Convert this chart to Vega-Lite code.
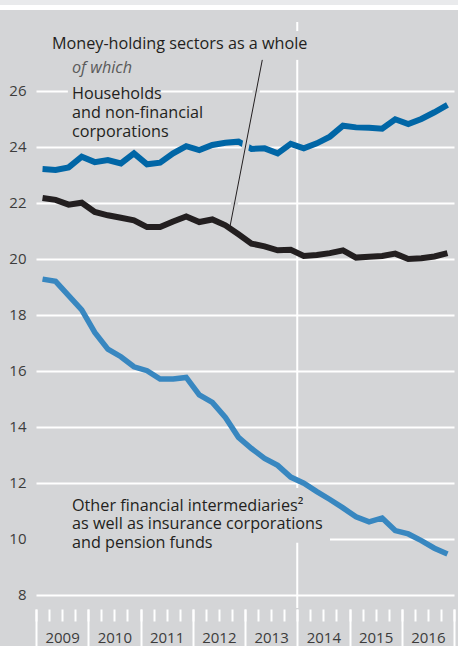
{
  "$schema": "https://vega.github.io/schema/vega-lite/v6.json",
  "width": 418,
  "height": 598,
  "autosize": {"type": "none"},
  "padding": {"left": 36, "top": 10, "right": 4, "bottom": 38},
  "background": "#d4d5d7",
  "config": {"view": {"stroke": null}, "font": "Open Sans"},
  "data": {"values": [{}]},
  "resolve": {"axis": {"x": "independent"}},
  "datasets": {
    "total": [
      {"t": 2009.125, "v": 22.17}, {"t": 2009.375, "v": 22.10}, {"t": 2009.625, "v": 21.93}, {"t": 2009.875, "v": 22.00},
      {"t": 2010.125, "v": 21.67}, {"t": 2010.375, "v": 21.55}, {"t": 2010.625, "v": 21.46}, {"t": 2010.875, "v": 21.37},
      {"t": 2011.125, "v": 21.13}, {"t": 2011.375, "v": 21.13}, {"t": 2011.625, "v": 21.33}, {"t": 2011.875, "v": 21.51},
      {"t": 2012.125, "v": 21.31}, {"t": 2012.375, "v": 21.40}, {"t": 2012.625, "v": 21.19}, {"t": 2012.875, "v": 20.87},
      {"t": 2013.125, "v": 20.54}, {"t": 2013.375, "v": 20.44}, {"t": 2013.625, "v": 20.30}, {"t": 2013.875, "v": 20.32},
      {"t": 2014.125, "v": 20.10}, {"t": 2014.375, "v": 20.13}, {"t": 2014.625, "v": 20.20}, {"t": 2014.875, "v": 20.30},
      {"t": 2015.125, "v": 20.04}, {"t": 2015.375, "v": 20.07}, {"t": 2015.625, "v": 20.10}, {"t": 2015.875, "v": 20.18},
      {"t": 2016.125, "v": 19.99}, {"t": 2016.375, "v": 20.02}, {"t": 2016.625, "v": 20.08}, {"t": 2016.875, "v": 20.20}
    ],
    "hh": [
      {"t": 2009.125, "v": 23.20}, {"t": 2009.375, "v": 23.17}, {"t": 2009.625, "v": 23.26}, {"t": 2009.875, "v": 23.64},
      {"t": 2010.125, "v": 23.45}, {"t": 2010.375, "v": 23.52}, {"t": 2010.625, "v": 23.40}, {"t": 2010.875, "v": 23.76},
      {"t": 2011.125, "v": 23.37}, {"t": 2011.375, "v": 23.43}, {"t": 2011.625, "v": 23.76}, {"t": 2011.875, "v": 24.02},
      {"t": 2012.125, "v": 23.88}, {"t": 2012.375, "v": 24.06}, {"t": 2012.625, "v": 24.14}, {"t": 2012.875, "v": 24.18},
      {"t": 2013.125, "v": 23.92}, {"t": 2013.375, "v": 23.94}, {"t": 2013.625, "v": 23.76}, {"t": 2013.875, "v": 24.10},
      {"t": 2014.125, "v": 23.94}, {"t": 2014.375, "v": 24.12}, {"t": 2014.625, "v": 24.36}, {"t": 2014.875, "v": 24.75},
      {"t": 2015.125, "v": 24.69}, {"t": 2015.375, "v": 24.68}, {"t": 2015.625, "v": 24.64}, {"t": 2015.875, "v": 24.98},
      {"t": 2016.125, "v": 24.81}, {"t": 2016.375, "v": 24.99}, {"t": 2016.625, "v": 25.23}, {"t": 2016.875, "v": 25.49}
    ],
    "ofi": [
      {"t": 2009.125, "v": 19.27}, {"t": 2009.375, "v": 19.19}, {"t": 2009.625, "v": 18.68}, {"t": 2009.875, "v": 18.17},
      {"t": 2010.125, "v": 17.37}, {"t": 2010.375, "v": 16.77}, {"t": 2010.625, "v": 16.50}, {"t": 2010.875, "v": 16.14},
      {"t": 2011.125, "v": 16.00}, {"t": 2011.375, "v": 15.70}, {"t": 2011.625, "v": 15.70}, {"t": 2011.875, "v": 15.76},
      {"t": 2012.125, "v": 15.14}, {"t": 2012.375, "v": 14.87}, {"t": 2012.625, "v": 14.33}, {"t": 2012.875, "v": 13.62},
      {"t": 2013.125, "v": 13.22}, {"t": 2013.375, "v": 12.87}, {"t": 2013.625, "v": 12.62}, {"t": 2013.875, "v": 12.20},
      {"t": 2014.125, "v": 11.98}, {"t": 2014.375, "v": 11.68}, {"t": 2014.625, "v": 11.40}, {"t": 2014.875, "v": 11.10},
      {"t": 2015.125, "v": 10.78}, {"t": 2015.375, "v": 10.60}, {"t": 2015.625, "v": 10.74}, {"t": 2015.875, "v": 10.29},
      {"t": 2016.125, "v": 10.17}, {"t": 2016.375, "v": 9.93}, {"t": 2016.625, "v": 9.66}, {"t": 2016.875, "v": 9.45}
    ]
  },
  "layer": [
    {
      "mark": {"type": "rect", "fill": "#e9eaec"},
      "encoding": {
        "x": {
          "datum": 2008.3, "type": "quantitative", "title": null,
          "scale": {"domain": [2009, 2017], "nice": false, "zero": false},
          "axis": {
            "orient": "bottom",
            "title": null,
            "values": [2009, 2009.25, 2009.5, 2009.75, 2010, 2010.25, 2010.5, 2010.75, 2011, 2011.25, 2011.5, 2011.75, 2012, 2012.25, 2012.5, 2012.75, 2013, 2013.25, 2013.5, 2013.75, 2014, 2014.25, 2014.5, 2014.75, 2015, 2015.25, 2015.5, 2015.75, 2016, 2016.25, 2016.5, 2016.75, 2017],
            "grid": false,
            "domain": false,
            "ticks": true,
            "tickColor": "#ffffff",
            "tickWidth": 2,
            "tickSize": 12,
            "offset": 1,
            "labels": false
          }
        },
        "x2": {"datum": 2017.1},
        "y": {
          "datum": 29.06, "type": "quantitative", "title": null,
          "scale": {"domain": [7.525, 28.882], "nice": false, "zero": false},
          "axis": {
            "title": null,
            "values": [8, 10, 12, 14, 16, 18, 20, 22, 24, 26],
            "grid": true,
            "gridColor": "#ffffff",
            "gridWidth": 2,
            "gridOpacity": 1,
            "domain": false,
            "ticks": false,
            "labelFont": "Open Sans",
            "labelFontSize": 15,
            "labelColor": "#3c3c3c",
            "labelPadding": 10
          }
        },
        "y2": {"datum": 29.4}
      }
    },
    {
      "mark": {"type": "rect", "fill": "#ffffff"},
      "encoding": {
        "x": {
          "datum": 2008.3, "type": "quantitative", "title": null,
          "axis": {
            "orient": "bottom",
            "title": null,
            "values": [2009, 2010, 2011, 2012, 2013, 2014, 2015, 2016, 2017],
            "grid": false,
            "domain": false,
            "ticks": true,
            "tickColor": "#ffffff",
            "tickWidth": 2,
            "tickSize": 38,
            "offset": 1,
            "labelExpr": "datum.value < 2017 ? '' + datum.value : ''",
            "labelOffset": 26.1,
            "labelAlign": "center",
            "labelFont": "Open Sans",
            "labelFontSize": 15,
            "labelColor": "#3c3c3c",
            "labelBaseline": "alphabetic",
            "labelPadding": -4.5,
            "labelOverlap": false,
            "labelFlush": false,
            "labelBound": false
          }
        },
        "x2": {"datum": 2017.1},
        "y": {"datum": 28.882, "type": "quantitative", "title": null},
        "y2": {"datum": 29.06}
      }
    },
    {
      "mark": {"type": "rule", "stroke": "#ffffff", "strokeWidth": 2},
      "encoding": {
        "x": {"datum": 2014, "type": "quantitative", "axis": null},
        "y": {"datum": 28.45, "type": "quantitative", "title": null},
        "y2": {"datum": 7.525}
      }
    },
    {
      "mark": {"type": "rect", "fill": "#d4d5d7"},
      "encoding": {
        "x": {"datum": 2013.9, "type": "quantitative", "axis": null},
        "x2": {"datum": 2014.1},
        "y": {"datum": 27.1, "type": "quantitative", "title": null},
        "y2": {"datum": 28.13}
      }
    },
    {
      "mark": {"type": "rect", "fill": "#d4d5d7"},
      "encoding": {
        "x": {"datum": 2009.61, "type": "quantitative", "axis": null},
        "x2": {"datum": 2011.38},
        "y": {"datum": 25.75, "type": "quantitative", "title": null},
        "y2": {"datum": 26.25}
      }
    },
    {
      "mark": {"type": "rect", "fill": "#d4d5d7"},
      "encoding": {
        "x": {"datum": 2009, "type": "quantitative", "axis": null},
        "x2": {"datum": 2014.627},
        "y": {"datum": 9.857, "type": "quantitative", "title": null},
        "y2": {"datum": 11.81}
      }
    },
    {
      "data": {"name": "ofi"},
      "mark": {"type": "line", "stroke": "#3887c0", "strokeWidth": 5.5, "strokeJoin": "miter", "strokeCap": "butt"},
      "encoding": {
        "x": {"field": "t", "type": "quantitative", "axis": null},
        "y": {"field": "v", "type": "quantitative", "title": null}
      }
    },
    {
      "data": {"name": "hh"},
      "mark": {"type": "line", "stroke": "#0066a6", "strokeWidth": 6, "strokeJoin": "miter", "strokeCap": "butt"},
      "encoding": {
        "x": {"field": "t", "type": "quantitative", "axis": null},
        "y": {"field": "v", "type": "quantitative", "title": null}
      }
    },
    {
      "mark": {"type": "rule", "stroke": "#d4d5d7", "strokeWidth": 7},
      "encoding": {
        "x": {"datum": 2013.331, "type": "quantitative", "axis": null},
        "y": {"datum": 27.1, "type": "quantitative", "title": null},
        "x2": {"datum": 2012.713},
        "y2": {"datum": 21.15}
      }
    },
    {
      "mark": {"type": "rule", "stroke": "#231f20", "strokeWidth": 1},
      "encoding": {
        "x": {"datum": 2013.331, "type": "quantitative", "axis": null},
        "y": {"datum": 27.1, "type": "quantitative", "title": null},
        "x2": {"datum": 2012.713},
        "y2": {"datum": 21.15}
      }
    },
    {
      "data": {"name": "total"},
      "mark": {"type": "line", "stroke": "#231f20", "strokeWidth": 6, "strokeJoin": "miter", "strokeCap": "butt"},
      "encoding": {
        "x": {"field": "t", "type": "quantitative", "axis": null},
        "y": {"field": "v", "type": "quantitative", "title": null}
      }
    },
    {
      "mark": {"type": "text", "align": "left", "baseline": "alphabetic", "font": "Open Sans", "fontSize": 16.2, "fill": "#231f20", "text": "Money-holding sectors as a whole"},
      "encoding": {
        "x": {"datum": 2009.306, "type": "quantitative", "axis": null},
        "y": {"datum": 27.5, "type": "quantitative", "title": null}
      }
    },
    {
      "mark": {"type": "text", "align": "left", "baseline": "alphabetic", "font": "Open Sans", "fontSize": 16.2, "fontStyle": "italic", "fill": "#5a5a5a", "text": "of which"},
      "encoding": {
        "x": {"datum": 2009.689, "type": "quantitative", "axis": null},
        "y": {"datum": 26.63, "type": "quantitative", "title": null}
      }
    },
    {
      "mark": {"type": "text", "align": "left", "baseline": "alphabetic", "font": "Open Sans", "fontSize": 16.2, "lineHeight": 19, "fill": "#231f20", "text": ["Households", "and non-financial", "corporations"]},
      "encoding": {
        "x": {"datum": 2009.689, "type": "quantitative", "axis": null},
        "y": {"datum": 25.70, "type": "quantitative", "title": null}
      }
    },
    {
      "mark": {"type": "text", "align": "left", "baseline": "alphabetic", "font": "Open Sans", "fontSize": 16.2, "lineHeight": 18.5, "fill": "#231f20", "text": ["Other financial intermediaries²", "as well as insurance corporations", "and pension funds"]},
      "encoding": {
        "x": {"datum": 2009.689, "type": "quantitative", "axis": null},
        "y": {"datum": 11.0, "type": "quantitative", "title": null}
      }
    }
  ]
}
